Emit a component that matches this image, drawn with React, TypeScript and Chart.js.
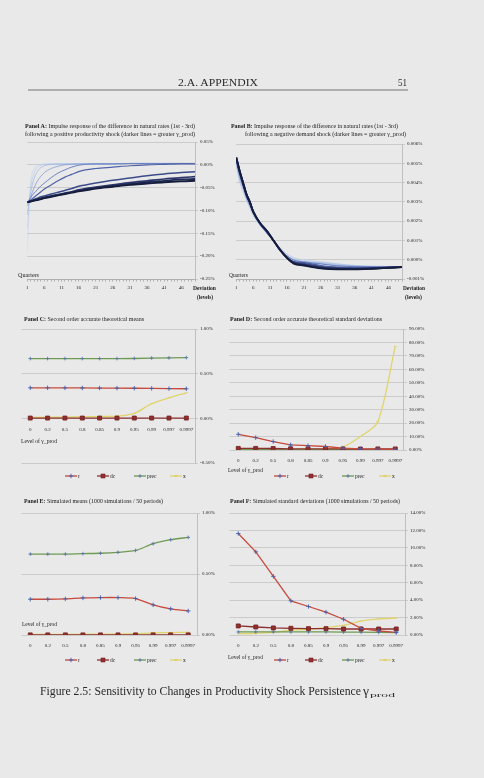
import React, { useEffect, useRef } from 'react';
import { Chart, registerables } from 'chart.js';
Chart.register(...registerables);

// ---------------- DATA ----------------
const quarters = [1, 2, 3, 4, 5, 6, 8, 10, 12, 14, 16, 18, 21, 26, 31, 36, 41, 46, 50];
const quarterTickLabels = ['1', '6', '11', '16', '21', '26', '31', '36', '41', '46'];
const gammaLabels = ['0', '0.2', '0.5', '0.8', '0.85', '0.9', '0.95', '0.99', '0.997', '0.9997'];

// Panel A: productivity shock IRF (% deviation), one array per gamma_prod
const prodIrf_g0 = [-0.190, -0.040, -0.008, 0.000, 0.001, 0.002, 0.002, 0.002, 0.002, 0.002, 0.002, 0.002, 0.002, 0.002, 0.003, 0.003, 0.003, 0.003, 0.003];
const prodIrf_g02 = [-0.140, -0.050, -0.017, -0.005, -0.001, 0.001, 0.002, 0.002, 0.002, 0.002, 0.002, 0.002, 0.002, 0.002, 0.003, 0.003, 0.003, 0.003, 0.003];
const prodIrf_g05 = [-0.110, -0.060, -0.030, -0.014, -0.006, -0.002, 0.001, 0.002, 0.002, 0.002, 0.002, 0.002, 0.002, 0.002, 0.003, 0.003, 0.003, 0.003, 0.003];
const prodIrf_g08 = [-0.090, -0.070, -0.050, -0.035, -0.025, -0.017, -0.008, -0.003, 0.000, 0.001, 0.002, 0.002, 0.002, 0.002, 0.003, 0.003, 0.003, 0.003, 0.003];
const prodIrf_g085 = [-0.082, -0.072, -0.062, -0.054, -0.046, -0.040, -0.028, -0.018, -0.011, -0.005, -0.001, 0.001, 0.002, 0.002, 0.003, 0.003, 0.003, 0.003, 0.003];
const prodIrf_g09 = [-0.082, -0.077, -0.071, -0.065, -0.059, -0.053, -0.044, -0.035, -0.027, -0.021, -0.015, -0.011, -0.008, -0.005, -0.002, 0.000, 0.001, 0.002, 0.002];
const prodIrf_g095 = [-0.082, -0.079, -0.076, -0.073, -0.070, -0.068, -0.064, -0.060, -0.056, -0.052, -0.047, -0.044, -0.040, -0.034, -0.029, -0.024, -0.020, -0.017, -0.015];
const prodIrf_g099 = [-0.082, -0.080, -0.077, -0.075, -0.073, -0.071, -0.068, -0.065, -0.062, -0.059, -0.055, -0.052, -0.049, -0.044, -0.039, -0.035, -0.031, -0.028, -0.026];
const prodIrf_g0997 = [-0.082, -0.080, -0.078, -0.076, -0.074, -0.072, -0.069, -0.066, -0.063, -0.060, -0.057, -0.054, -0.051, -0.046, -0.042, -0.038, -0.035, -0.032, -0.031];
const prodIrf_g09997 = [-0.082, -0.080, -0.078, -0.077, -0.075, -0.073, -0.070, -0.067, -0.064, -0.061, -0.058, -0.056, -0.052, -0.048, -0.044, -0.041, -0.038, -0.036, -0.035];

// Panel B: demand shock IRF (% deviation)
const demIrf_g0 = [0.0048, 0.0040, 0.0035, 0.0031, 0.0027, 0.0023, 0.0018, 0.0014, 0.0010, 0.0006, 0.0003, 0.0001, 0.0000, -0.0001, -0.0002, -0.0003, -0.00033, -0.00035, -0.00036];
const demIrf_g02 = [0.0049, 0.0041, 0.0036, 0.0031, 0.0027, 0.0023, 0.0018, 0.0014, 0.0010, 0.0006, 0.0003, 0.0001, -0.00002, -0.00012, -0.00022, -0.0003, -0.00034, -0.00035, -0.00036];
const demIrf_g05 = [0.0050, 0.0042, 0.0037, 0.0032, 0.0028, 0.0024, 0.0018, 0.0014, 0.0010, 0.0006, 0.0002, 0.0000, -0.0001, -0.00015, -0.00025, -0.00032, -0.00035, -0.00036, -0.00037];
const demIrf_g08 = [0.0051, 0.0043, 0.0038, 0.0032, 0.0028, 0.0024, 0.0018, 0.0014, 0.0010, 0.0005, 0.0002, 0.0000, -0.0001, -0.0002, -0.0003, -0.00034, -0.00036, -0.00037, -0.00037];
const demIrf_g085 = [0.0051, 0.0044, 0.0038, 0.0033, 0.0029, 0.0025, 0.0019, 0.0014, 0.0010, 0.0005, 0.0002, -0.00002, -0.00012, -0.00022, -0.00032, -0.00036, -0.00037, -0.00037, -0.00037];
const demIrf_g09 = [0.0052, 0.0045, 0.0039, 0.0033, 0.0029, 0.0025, 0.0019, 0.0014, 0.0010, 0.0005, 0.0001, -0.0001, -0.00015, -0.0003, -0.00038, -0.0004, -0.0004, -0.00039, -0.00038];
const demIrf_g095 = [0.0052, 0.0045, 0.0039, 0.0034, 0.0030, 0.0025, 0.0019, 0.0015, 0.0010, 0.0005, 0.0001, -0.00012, -0.0002, -0.00035, -0.00042, -0.00044, -0.00042, -0.0004, -0.00038];
const demIrf_g099 = [0.0053, 0.0046, 0.0040, 0.0034, 0.0030, 0.0025, 0.0019, 0.0015, 0.0010, 0.0005, 0.0001, -0.00015, -0.00025, -0.0004, -0.00046, -0.00047, -0.00045, -0.00041, -0.00038];
const demIrf_g0997 = [0.0053, 0.0046, 0.0040, 0.0034, 0.0030, 0.0025, 0.0019, 0.0015, 0.0010, 0.0005, 0.0001, -0.00018, -0.00028, -0.00043, -0.00048, -0.00048, -0.00046, -0.00042, -0.00038];
const demIrf_g09997 = [0.0053, 0.0046, 0.0040, 0.0034, 0.0030, 0.0025, 0.0019, 0.0015, 0.0010, 0.0005, 0.0001, -0.0002, -0.0003, -0.00045, -0.0005, -0.0005, -0.00047, -0.00042, -0.00038];

// Panel C: second order accurate theoretical means (%)
const meanC_r = [0.342, 0.342, 0.341, 0.340, 0.339, 0.338, 0.337, 0.335, 0.333, 0.331];
const meanC_dc = [0.003, 0.003, 0.003, 0.003, 0.003, 0.003, 0.003, 0.003, 0.003, 0.003];
const meanC_prec = [0.669, 0.669, 0.669, 0.669, 0.669, 0.669, 0.670, 0.675, 0.677, 0.680];
const meanC_x = [0.010, 0.012, 0.014, 0.018, 0.020, 0.024, 0.056, 0.164, 0.230, 0.286];

// Panel D: second order accurate theoretical standard deviations (%)
const sdD_r = [11.7, 9.2, 6.3, 3.8, 3.2, 2.6, 1.4, 0.8, 0.6, 0.5];
const sdD_dc = [1.2, 1.2, 1.1, 0.9, 0.9, 0.9, 0.8, 0.7, 0.8, 0.8];
const sdD_prec = [0.3, 0.3, 0.3, 0.3, 0.3, 0.3, 0.3, 0.3, 0.3, 0.3];
const sdD_x = [0.3, 0.3, 0.4, 0.5, 0.6, 0.8, 2.2, 10.0, 21.0, 77.0];

// Panel E: simulated means (%)
const meanE_r = [0.293, 0.293, 0.296, 0.304, 0.307, 0.307, 0.299, 0.247, 0.214, 0.197];
const meanE_dc = [0.001, 0.001, 0.001, 0.001, 0.001, 0.001, 0.001, 0.001, 0.001, 0.001];
const meanE_prec = [0.663, 0.663, 0.663, 0.667, 0.670, 0.678, 0.693, 0.748, 0.781, 0.800];
const meanE_x = [0.004, 0.004, 0.005, 0.006, 0.007, 0.008, 0.011, 0.017, 0.020, 0.022];

// Panel F: simulated standard deviations (%)
const sdF_r = [11.65, 9.54, 6.73, 3.92, 3.27, 2.62, 1.81, 0.77, 0.46, 0.31];
const sdF_dc = [1.04, 0.92, 0.81, 0.77, 0.73, 0.73, 0.69, 0.69, 0.69, 0.69];
const sdF_prec = [0.35, 0.35, 0.35, 0.35, 0.35, 0.35, 0.34, 0.32, 0.29, 0.27];
const sdF_x = [0.15, 0.2, 0.3, 0.55, 0.65, 0.85, 1.1, 1.6, 1.85, 1.95];

// ---------------- STYLE ----------------
const FONT = "'Liberation Serif', 'Times New Roman', serif";
const BG = '#e9e9e9';
const TICK_COLOR = '#222222';
const TEXT = '#1c1c1c';
const GRID = '#c3c3c3';
const tickFont = { family: FONT, size: 5 };

const irfColors = ['#c6d5ef', '#b3c6ea', '#9bb4e1', '#839dd6', '#6a83c3', '#5063a6', '#3c4b8a', '#2c376c', '#212a54', '#161d3c'];
const irfWidths = [0.6, 0.6, 0.7, 0.8, 1.0, 1.2, 1.5, 1.7, 1.8, 1.9];

const seriesStyles: any = {
  r: { line: '#c64a3d', marker: '#3f5fae', pointStyle: 'cross', radius: 2.2, fill: 'transparent' },
  dc: { line: '#8d2f2f', marker: '#7a2424', pointStyle: 'rect', radius: 2.8, fill: '#8d2f2f' },
  prec: { line: '#6f9a52', marker: '#5877ad', pointStyle: 'cross', radius: 1.8, fill: 'transparent' },
  x: { line: '#e0d46c', marker: '#e0d46c', pointStyle: 'line', radius: 1.5, fill: '#e0d46c' },
};

const fmt = (d: number, suffix = '%') => (v: any) => {
  const n = Math.abs(Number(v)) < 1e-9 ? 0 : Number(v);
  return n.toFixed(d) + suffix;
};

function yAxis(min: number, max: number, step: number, dec: number) {
  return {
    position: 'right',
    min,
    max,
    ticks: { stepSize: step, callback: fmt(dec), font: tickFont, color: TICK_COLOR, padding: 2 },
    grid: { color: GRID, lineWidth: 0.8, tickLength: 3, drawTicks: true },
    border: { display: true, color: '#b4b4b4', width: 0.8 },
    afterFit: (s: any) => { s.width = 24; },
  };
}

const baseOptions = {
  animation: false,
  responsive: false,
  devicePixelRatio: 1,
  layout: { padding: { top: 5, right: 0, bottom: 0, left: 0 }, autoPadding: false },
  plugins: { legend: { display: false }, tooltip: { enabled: false } },
};

function irfConfig(series: number[][], yMin: number, yMax: number, yStep: number, dec: number) {
  const datasets = series.map((s, i) => ({
    label: gammaLabels[i],
    data: quarters.map((q, j) => ({ x: q, y: s[j] })),
    borderColor: irfColors[i],
    borderWidth: irfWidths[i],
    pointRadius: 0,
    cubicInterpolationMode: 'monotone',
    order: series.length - i,
  }));
  return {
    type: 'line',
    data: { datasets },
    options: {
      ...baseOptions,
      scales: {
        x: {
          type: 'linear',
          min: 1,
          max: 50,
          ticks: {
            stepSize: 1,
            autoSkip: false,
            maxRotation: 0,
            font: tickFont,
            color: TICK_COLOR,
            padding: 3,
            callback: (v: any) => (quarterTickLabels.includes(String(v)) ? String(v) : ''),
          },
          grid: { drawOnChartArea: false, drawTicks: true, tickLength: 2.5, color: '#8c8c8c', lineWidth: 0.6 },
          border: { display: true, color: '#a8a8a8', width: 0.8 },
          afterFit: (s: any) => { s.height = 14; },
        },
        y: yAxis(yMin, yMax, yStep, dec),
      },
    },
  };
}

function gammaConfig(vals: any, yMin: number, yMax: number, yStep: number, dec: number, atZero: boolean, tension: any) {
  const keys = ['r', 'dc', 'prec', 'x'];
  const datasets = keys.map((k) => {
    const st = seriesStyles[k];
    return {
      label: k,
      data: vals[k],
      borderColor: st.line,
      borderWidth: 1.3,
      pointStyle: st.pointStyle,
      pointRadius: st.radius,
      pointBorderColor: st.marker,
      pointBackgroundColor: st.fill,
      pointBorderWidth: 0.9,
      tension: tension[k] || 0,
    };
  });
  return {
    type: 'line',
    data: { labels: gammaLabels, datasets },
    options: {
      ...baseOptions,
      layout: { padding: { top: 5, right: 0, bottom: atZero ? 4 : 0, left: 0 }, autoPadding: false },
      scales: {
        x: {
          type: 'category',
          offset: true,
          position: atZero ? { y: 0 } : 'bottom',
          grid: { display: false, drawTicks: false },
          border: { display: false },
          ticks: { font: tickFont, color: TICK_COLOR, padding: 8, autoSkip: false, maxRotation: 0 },
          afterFit: (s: any) => { if (!atZero) s.height = 16; },
        },
        y: yAxis(yMin, yMax, yStep, dec),
      },
    },
  };
}

// ---------------- COMPONENTS ----------------
function ChartCanvas({ left, top, width, height, config }: any) {
  const ref = useRef<HTMLCanvasElement>(null);
  useEffect(() => {
    const c = new Chart(ref.current as HTMLCanvasElement, config as any);
    return () => c.destroy();
  }, []);
  return (
    <canvas
      ref={ref}
      width={width}
      height={height}
      style={{ position: 'absolute', left, top, width, height }}
    />
  );
}

function T({ x, y, w, size = 6, weight, children, fill = TEXT, anchor }: any) {
  return (
    <text
      x={x}
      y={y}
      fontFamily={FONT}
      fontSize={size}
      fontWeight={weight}
      fill={fill}
      textAnchor={anchor}
      {...(w ? { textLength: w, lengthAdjust: 'spacingAndGlyphs' } : {})}
    >
      {children}
    </text>
  );
}

function LegendItem({ x, y, w, k }: any) {
  const st = seriesStyles[k];
  const cx = x + w / 2;
  let marker: any = null;
  if (k === 'dc') marker = <rect x={cx - 2} y={y - 2} width={4} height={4} fill={st.fill} stroke={st.marker} strokeWidth={0.6} />;
  else if (k === 'x') marker = <line x1={cx - 1.5} y1={y} x2={cx + 1.5} y2={y} stroke="#d8cc60" strokeWidth={1.4} />;
  else marker = (
    <g stroke={st.marker} strokeWidth={0.9}>
      <line x1={cx - st.radius} y1={y} x2={cx + st.radius} y2={y} />
      <line x1={cx} y1={y - st.radius} x2={cx} y2={y + st.radius} />
    </g>
  );
  return (
    <g>
      <line x1={x} y1={y} x2={x + w} y2={y} stroke={st.line} strokeWidth={1.3} />
      {marker}
      <T x={x + w + 1} y={y + 1.8} size={5.5}>{k}</T>
    </g>
  );
}

function Legend({ y, xs }: any) {
  const keys = ['r', 'dc', 'prec', 'x'];
  return (
    <g>
      {keys.map((k, i) => (
        <LegendItem key={k} k={k} x={xs[i]} y={y} w={12} />
      ))}
    </g>
  );
}

export default function App() {
  const irfA = [prodIrf_g0, prodIrf_g02, prodIrf_g05, prodIrf_g08, prodIrf_g085, prodIrf_g09, prodIrf_g095, prodIrf_g099, prodIrf_g0997, prodIrf_g09997];
  const irfB = [demIrf_g0, demIrf_g02, demIrf_g05, demIrf_g08, demIrf_g085, demIrf_g09, demIrf_g095, demIrf_g099, demIrf_g0997, demIrf_g09997];

  const cfgA = irfConfig(irfA, -0.25, 0.05, 0.05, 2);
  const cfgB = irfConfig(irfB, -0.001, 0.006, 0.001, 3);
  const cfgC = gammaConfig({ r: meanC_r, dc: meanC_dc, prec: meanC_prec, x: meanC_x }, -0.5, 1.0, 0.5, 2, true, { x: 0.3 });
  const cfgD = gammaConfig({ r: sdD_r, dc: sdD_dc, prec: sdD_prec, x: sdD_x }, 0, 90, 10, 2, false, { x: 0.3 });
  const cfgE = gammaConfig({ r: meanE_r, dc: meanE_dc, prec: meanE_prec, x: meanE_x }, 0, 1.0, 0.5, 2, false, { r: 0.25, prec: 0.25, x: 0.25 });
  const cfgF = gammaConfig({ r: sdF_r, dc: sdF_dc, prec: sdF_prec, x: sdF_x }, 0, 14, 2, 2, false, { x: 0.3 });

  return (
    <div style={{ position: 'absolute', left: 0, top: 0, width: 484, height: 778, background: BG, overflow: 'hidden' }}>
      <ChartCanvas left={23} top={137} width={172 + 24} height={142 + 14} config={cfgA} />
      <ChartCanvas left={232} top={139} width={170 + 24} height={140 + 14} config={cfgB} />
      <ChartCanvas left={21} top={324} width={174 + 24} height={140 + 4} config={cfgC} />
      <ChartCanvas left={229} top={324} width={175 + 24} height={126 + 16} config={cfgD} />
      <ChartCanvas left={21} top={508} width={176 + 24} height={127 + 16} config={cfgE} />
      <ChartCanvas left={229} top={508} width={176 + 24} height={127 + 16} config={cfgF} />

      <svg width={484} height={778} style={{ position: 'absolute', left: 0, top: 0, pointerEvents: 'none' }}>
        <T x={178} y={85.5} w={80} size={9.5} fill="#2a2a2a">2.A. APPENDIX</T>
        <T x={398} y={85.5} w={9} size={9.5} fill="#2a2a2a">51</T>
        <line x1={28} y1={90} x2={408} y2={90} stroke="#555" strokeWidth={0.8} />

        <T x={25} y={127.5} w={170}><tspan fontWeight="bold">Panel A:</tspan> Impulse response of the difference in natural rates  (1st - 3rd)</T>
        <T x={25} y={135.5} w={170}>following a positive productivity shock (darker lines = greater γ_prod)</T>
        <T x={18} y={276.5} w={21} size={5.5}>Quarters</T>
        <T x={193} y={290} w={23} size={5.5} weight="bold">Deviation</T>
        <T x={197} y={299} w={16} size={5.5} weight="bold">(levels)</T>

        <T x={231} y={127.5} w={167}><tspan fontWeight="bold">Panel B:</tspan> Impulse response of the difference in natural rates  (1st - 3rd)</T>
        <T x={245} y={135.5} w={161}>following a negative demand shock (darker lines = greater γ_prod)</T>
        <T x={229} y={276.5} w={19} size={5.5}>Quarters</T>
        <T x={403} y={290} w={22} size={5.5} weight="bold">Deviation</T>
        <T x={405} y={299} w={17} size={5.5} weight="bold">(levels)</T>

        <T x={24} y={321} w={120}><tspan fontWeight="bold">Panel C:</tspan> Second order accurate theoretical means</T>
        <T x={21} y={443} w={36} size={5.5}>Level of γ_prod</T>
        <Legend y={476} xs={[65, 97, 134, 170]} />

        <T x={230} y={321} w={152}><tspan fontWeight="bold">Panel D:</tspan> Second order accurate theoretical standard deviations</T>
        <T x={228} y={472} w={35} size={5.5}>Level of γ_prod</T>
        <Legend y={476} xs={[274, 305, 342, 379]} />

        <T x={24} y={502.5} w={139}><tspan fontWeight="bold">Panel E:</tspan> Simulated means (1000 simulations  /  50 periods)</T>
        <T x={22} y={626} w={35} size={5.5}>Level of γ_prod</T>
        <Legend y={660} xs={[65, 97, 134, 170]} />

        <T x={230} y={502.5} w={170}><tspan fontWeight="bold">Panel F:</tspan> Simulated standard deviations (1000 simulations  /  50 periods)</T>
        <T x={228} y={659} w={35} size={5.5}>Level of γ_prod</T>
        <Legend y={660} xs={[274, 305, 342, 379]} />

        <T x={40} y={694.5} w={321} size={11.5} fill="#2a2a2a">Figure 2.5: Sensitivity to Changes in Productivity Shock Persistence</T>
        <T x={363} y={694.5} w={6} size={11.5} fill="#2a2a2a">γ</T>
        <T x={370} y={697} w={25} size={6.5} fill="#2a2a2a">prod</T>
      </svg>
    </div>
  );
}
